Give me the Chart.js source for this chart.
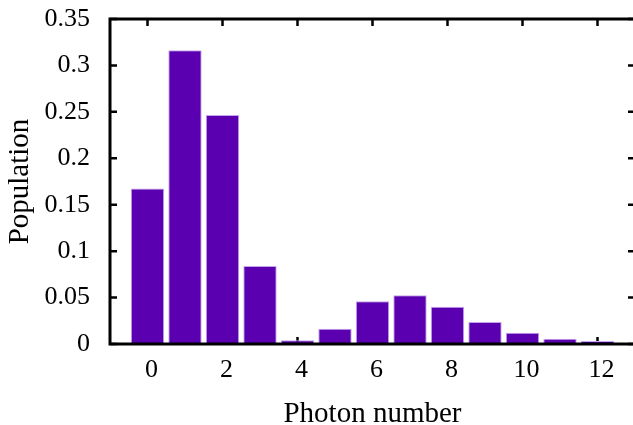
<!DOCTYPE html>
<html>
<head>
<meta charset="utf-8">
<script src="https://cdn.jsdelivr.net/npm/chart.js@4/dist/chart.umd.min.js"></script>
<style>
  html, body { margin: 0; padding: 0; background: #fff; overflow: hidden; }
  #wrap { width: 640px; height: 432px; }
</style>
</head>
<body>
<div id="wrap"><canvas id="chart"></canvas></div>
<script>
const photonNumbers = [0, 1, 2, 3, 4, 5, 6, 7, 8, 9, 10, 11, 12];
const population = [0.1675, 0.3164, 0.2467, 0.0840, 0.0040, 0.0165, 0.0460, 0.0525, 0.0400, 0.0237, 0.0122, 0.0057, 0.0032];
const xTicks = [0, 2, 4, 6, 8, 10, 12];
const yTicks = [0, 0.05, 0.1, 0.15, 0.2, 0.25, 0.3, 0.35];

const SERIF = '"Liberation Serif", "DejaVu Serif", serif';
const TICK_FONT = { family: SERIF, size: 26 };
const TITLE_FONT = { family: SERIF, size: 29 };

// gnuplot style box: inward ticks on all four sides, drawn under the bars
const frame = {
  id: 'frame',
  beforeDatasetsDraw(chart) {
    const { ctx, chartArea: a, scales } = chart;
    ctx.save();
    ctx.strokeStyle = '#000';
    ctx.lineWidth = 2.5;
    ctx.beginPath();
    scales.x.ticks.forEach(t => {
      const px = scales.x.getPixelForValue(t.value);
      ctx.moveTo(px, a.bottom); ctx.lineTo(px, a.bottom - 7);
      ctx.moveTo(px, a.top); ctx.lineTo(px, a.top + 7);
    });
    scales.y.ticks.forEach(t => {
      const py = scales.y.getPixelForValue(t.value);
      ctx.moveTo(a.left, py); ctx.lineTo(a.left + 7, py);
      ctx.moveTo(a.right, py); ctx.lineTo(a.right - 7, py);
    });
    ctx.stroke();
    ctx.restore();
  },
  afterDatasetsDraw(chart) {
    const { ctx, chartArea: a } = chart;
    ctx.save();
    ctx.strokeStyle = '#000';
    ctx.lineWidth = 3;
    ctx.strokeRect(a.left, a.top, a.right - a.left, a.bottom - a.top);
    ctx.restore();
  }
};

new Chart(document.getElementById('chart'), {
  type: 'bar',
  data: {
    datasets: [{
      data: photonNumbers.map((n, i) => ({ x: n, y: population[i] })),
      backgroundColor: '#5a00b0',
      borderColor: '#c4a6ea',
      borderWidth: 1,
      barPercentage: 0.89,
      categoryPercentage: 1
    }]
  },
  options: {
    responsive: true,
    maintainAspectRatio: false,
    animation: false,
    layout: { padding: { left: 0, right: 5, top: 0, bottom: 0 } },
    plugins: { legend: { display: false }, tooltip: { enabled: false } },
    scales: {
      x: {
        type: 'linear',
        offset: false,
        min: -1,
        max: 13,
        grid: { display: false, drawTicks: false, offset: false },
        border: { display: false },
        afterBuildTicks: s => { s.ticks = xTicks.map(v => ({ value: v })); },
        afterFit: s => { s.height = 88; },
        ticks: { font: TICK_FONT, color: '#000', padding: 11, maxRotation: 0, labelOffset: 4 },
        title: { display: true, text: 'Photon number', font: TITLE_FONT, color: '#000', padding: { top: 0, bottom: 0 } }
      },
      y: {
        min: 0,
        max: 0.35,
        grid: { display: false, drawTicks: false },
        border: { display: false },
        afterBuildTicks: s => { s.ticks = yTicks.map(v => ({ value: v })); },
        afterFit: s => { s.width = 110; s.paddingTop = 19; s.paddingBottom = 0; },
        ticks: {
          font: TICK_FONT, color: '#000', padding: 20,
          callback: v => String(Number(v.toFixed(2)))
        },
        title: { display: true, text: 'Population', font: TITLE_FONT, color: '#000', padding: { top: 3, bottom: 0 } }
      }
    }
  },
  plugins: [frame]
});
</script>
</body>
</html>
